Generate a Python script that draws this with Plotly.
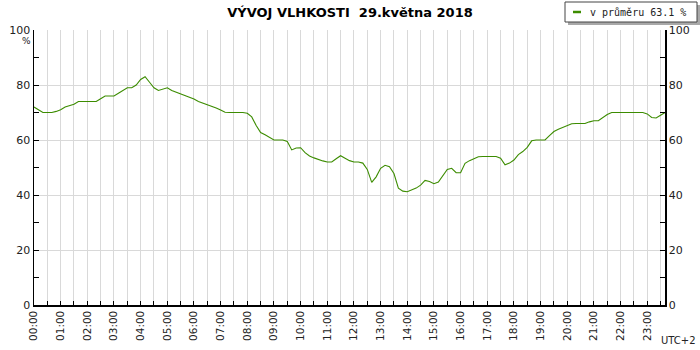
import plotly.graph_objects as go

# time of each reading, hours after midnight (10-minute readings)
hours = [k / 6 for k in range(143)]

humidity = [
    72, 71, 70, 70, 70, 70.4, 71, 72, 72.5, 73, 74, 74,
    74, 74, 74, 75, 76, 76, 76, 77, 78, 79, 79, 80,
    82, 83, 81, 79, 78, 78.5, 79, 78, 77.4, 76.8, 76.2, 75.6,
    74.9, 74, 73.4, 73, 72.3, 71.6, 70.9, 70.1, 70, 70, 70, 70,
    69.7, 68.4, 65.3, 62.7, 61.9, 60.8, 60, 60, 60, 59.5, 56.4, 57.1,
    57.2, 55.4, 54.2, 53.5, 52.9, 52.4, 52, 52, 53.2, 54.3, 53.4, 52.5,
    52, 52, 51.6, 49.3, 44.6, 46.6, 49.7, 50.8, 50.3, 47.8, 42.5, 41.4,
    41.2, 41.9, 42.5, 43.6, 45.3, 44.9, 44.1, 44.7, 47.2, 49.3, 49.7, 48.1,
    48.1, 51.5, 52.5, 53.3, 53.9, 54, 54, 54, 54, 53.4, 51, 51.6,
    52.7, 54.7, 55.8, 57.3, 59.7, 60, 60, 60, 61.6, 63.1, 63.9, 64.6,
    65.3, 65.9, 66, 66, 66, 66.6, 67, 67, 68.3, 69.3, 70, 70,
    70, 70, 70, 70, 70, 70, 69.5, 68.2, 68, 68.9, 70,
]

hour_ticks = list(range(24))
hour_labels = [f"{h:02d}:00" for h in hour_ticks]
y_ticks = [0, 20, 40, 60, 80, 100]

title_text = "VÝVOJ VLHKOSTI \u00a029.května 2018"
legend_text = "v průměru 63.1 %"
tz_text = "UTC+2"

LINE = "#3c8c00"
GRID = "#d9d9d9"
FONT = "DejaVu Sans"

fig = go.Figure()
fig.add_trace(go.Scatter(
    x=hours, y=humidity, mode="lines",
    line=dict(color=LINE, width=1.1),
    showlegend=False, hoverinfo="skip",
))
# invisible trace bound to the right-hand axis
fig.add_trace(go.Scatter(x=[hours[0]], y=[humidity[0]], yaxis="y2",
                         mode="lines", line=dict(width=0), showlegend=False,
                         hoverinfo="skip"))

L, R, T, B = 34, 35, 30, 45
W, H = 700, 350
pw, ph = W - L - R, H - T - B

def px(x):
    return (x - L) / pw

def py(y):
    return (H - B - y) / ph

yaxis_common = dict(
    range=[0, 100], tickvals=y_ticks, ticks="inside", ticklen=5,
    tickcolor="black", showline=True, linecolor="black", linewidth=1.5,
    tickfont=dict(family=FONT, size=11, color="#222"),
    minor=dict(dtick=10, tick0=0, ticks="inside", ticklen=5,
               tickcolor="black", showgrid=False),
    zeroline=False, fixedrange=True, automargin=False,
)

fig.update_layout(
    width=W, height=H,
    margin=dict(l=L, r=R, t=T, b=B, autoexpand=False),
    paper_bgcolor="white", plot_bgcolor="white",
    title=dict(text=title_text, x=0.5, xanchor="center", y=1 - 12 / H,
               yanchor="middle",
               font=dict(family=FONT, size=13, color="black", weight="bold")),
    xaxis=dict(
        range=[0, hours[-1]], tickvals=hour_ticks, ticktext=hour_labels,
        tickangle=-90, ticks="inside", ticklen=4, tickcolor="black",
        showline=True, linecolor="black", linewidth=1.5,
        showgrid=True, gridcolor=GRID, gridwidth=1,
        minor=dict(dtick=0.5, tick0=0, ticks="inside", ticklen=4,
                   tickcolor="black", showgrid=True, gridcolor=GRID),
        tickfont=dict(family=FONT, size=10.5, color="#222"),
        zeroline=False, automargin=False, fixedrange=True,
    ),
    yaxis=dict(**yaxis_common, showgrid=True, gridcolor=GRID, side="left"),
    yaxis2=dict(**yaxis_common, showgrid=False, overlaying="y", side="right"),
    showlegend=False,
)

# "%" unit under the top label
fig.add_annotation(text="%", xref="paper", yref="paper", x=px(26), y=py(41),
                   xanchor="center", yanchor="middle",
                   showarrow=False, font=dict(family=FONT, size=9, color="#222"))
# timezone label
fig.add_annotation(text=tz_text, xref="paper", yref="paper", x=px(698), y=py(340),
                   xanchor="right", yanchor="middle",
                   showarrow=False, font=dict(family=FONT, size=10, color="#222"))

# custom legend box with shadow
fig.add_shape(type="rect", xref="paper", yref="paper",
              x0=px(568), x1=px(700), y0=py(5), y1=py(25),
              fillcolor="#a8a8a8", line=dict(width=0))
fig.add_shape(type="rect", xref="paper", yref="paper",
              x0=px(565), x1=px(697), y0=py(2), y1=py(22),
              fillcolor="white", line=dict(color="#444", width=1))
fig.add_shape(type="line", xref="paper", yref="paper",
              x0=px(573), x1=px(581), y0=py(12), y1=py(12),
              line=dict(color=LINE, width=2.5))
fig.add_annotation(text=legend_text, xref="paper", yref="paper",
                   x=px(588), y=py(12), xanchor="left", yanchor="middle",
                   showarrow=False,
                   font=dict(family="DejaVu Sans Mono", size=10, color="#222"))

fig.write_html(
    "out.html",
    config={"displayModeBar": False, "staticPlot": True},
    post_script="document.body.style.margin='0';document.body.style.overflow='hidden';",
)
